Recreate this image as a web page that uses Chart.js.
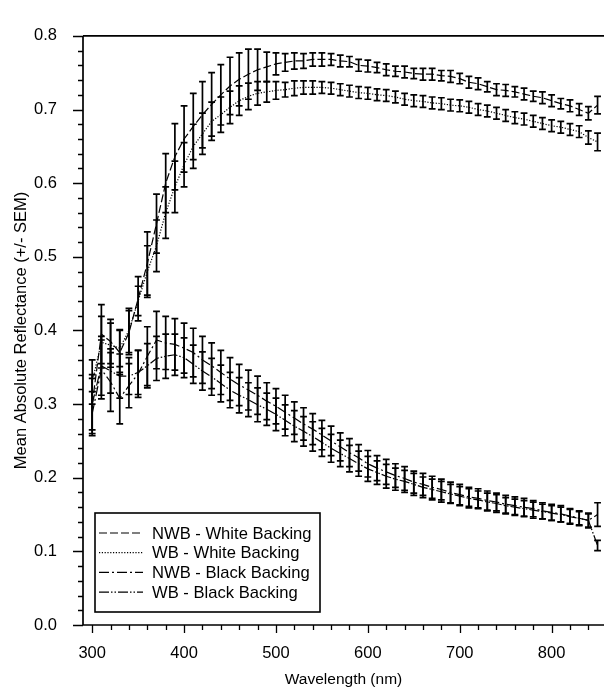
<!DOCTYPE html>
<html><head><meta charset="utf-8">
<script src="https://cdn.jsdelivr.net/npm/chart.js@4"></script>
<style>html,body{margin:0;padding:0;background:#fff}</style>
</head><body>
<canvas id="c" width="604" height="694"></canvas>
<script>
const wavelengths = [300,310,320,330,340,350,360,370,380,390,400,410,420,430,440,450,460,470,480,490,500,510,520,530,540,550,560,570,580,590,600,610,620,630,640,650,660,670,680,690,700,710,720,730,740,750,760,770,780,790,800,810,820,830,840,850];
const xTicks = [300,400,500,600,700,800];
const yTicks = [0,0.1,0.2,0.3,0.4,0.5,0.6,0.7,0.8];
const seriesLabels = ['NWB - White Backing','WB - White Backing','NWB - Black Backing','WB - Black Backing'];

const nwbWhite = [0.300,0.395,0.385,0.370,0.397,0.443,0.491,0.545,0.600,0.636,
 0.660,0.677,0.693,0.707,0.720,0.732,0.741,0.748,0.754,0.758,
 0.762,0.764,0.766,0.766,0.768,0.768,0.768,0.766,0.765,0.760,
 0.759,0.757,0.754,0.752,0.751,0.749,0.748,0.748,0.746,0.745,
 0.742,0.737,0.735,0.731,0.727,0.726,0.724,0.721,0.718,0.716,
 0.712,0.708,0.705,0.700,0.695,0.706];
const nwbWhiteErr = [0.035,0.040,0.030,0.030,0.030,0.030,0.043,0.040,0.040,0.045,
 0.045,0.045,0.045,0.043,0.041,0.039,0.036,0.034,0.028,0.020,
 0.015,0.012,0.011,0.010,0.009,0.009,0.008,0.008,0.007,0.008,
 0.008,0.007,0.008,0.007,0.008,0.007,0.008,0.008,0.007,0.008,
 0.007,0.008,0.008,0.007,0.008,0.008,0.007,0.008,0.007,0.008,
 0.008,0.007,0.008,0.008,0.009,0.012];

const wbWhite = [0.330,0.384,0.380,0.376,0.400,0.440,0.480,0.515,0.560,0.595,
 0.625,0.650,0.667,0.684,0.693,0.703,0.712,0.718,0.722,0.724,
 0.726,0.727,0.729,0.730,0.730,0.730,0.729,0.727,0.725,0.723,
 0.722,0.720,0.719,0.717,0.714,0.712,0.711,0.709,0.708,0.706,
 0.705,0.703,0.700,0.698,0.695,0.692,0.689,0.687,0.684,0.681,
 0.678,0.676,0.673,0.670,0.662,0.656];
const wbWhiteErr = [0.030,0.035,0.030,0.025,0.030,0.020,0.035,0.035,0.035,0.035,
 0.030,0.030,0.028,0.026,0.024,0.022,0.020,0.018,0.016,0.014,
 0.012,0.010,0.010,0.009,0.009,0.008,0.008,0.008,0.008,0.008,
 0.008,0.008,0.008,0.008,0.008,0.008,0.008,0.008,0.008,0.008,
 0.008,0.008,0.008,0.008,0.008,0.008,0.008,0.008,0.008,0.008,
 0.008,0.008,0.008,0.008,0.009,0.012];

const nwbBlack = [0.287,0.347,0.330,0.308,0.325,0.341,0.365,0.387,0.383,0.381,
 0.376,0.370,0.360,0.352,0.343,0.334,0.326,0.319,0.312,0.304,
 0.297,0.289,0.281,0.273,0.266,0.258,0.250,0.242,0.234,0.227,
 0.219,0.213,0.208,0.203,0.199,0.194,0.191,0.187,0.184,0.180,
 0.177,0.174,0.172,0.169,0.167,0.164,0.162,0.160,0.158,0.155,
 0.153,0.151,0.148,0.145,0.142,0.150];
const nwbBlackErr = [0.030,0.040,0.040,0.035,0.030,0.032,0.040,0.039,0.036,0.035,
 0.034,0.033,0.032,0.031,0.030,0.029,0.028,0.027,0.026,0.025,
 0.024,0.023,0.022,0.022,0.021,0.020,0.020,0.019,0.019,0.018,
 0.018,0.017,0.017,0.016,0.016,0.015,0.015,0.015,0.014,0.014,
 0.014,0.013,0.013,0.013,0.012,0.012,0.012,0.012,0.011,0.011,
 0.011,0.011,0.010,0.010,0.010,0.016];

const wbBlack = [0.300,0.352,0.345,0.338,0.338,0.343,0.352,0.362,0.365,0.367,
 0.363,0.354,0.345,0.337,0.328,0.319,0.312,0.306,0.299,0.293,
 0.286,0.278,0.270,0.263,0.256,0.248,0.240,0.233,0.226,0.219,
 0.212,0.207,0.202,0.198,0.195,0.191,0.187,0.184,0.181,0.178,
 0.175,0.172,0.170,0.167,0.165,0.162,0.160,0.158,0.156,0.154,
 0.152,0.150,0.147,0.145,0.142,0.108];
const wbBlackErr = [0.040,0.040,0.030,0.030,0.025,0.030,0.030,0.030,0.030,0.028,
 0.027,0.026,0.026,0.025,0.025,0.024,0.024,0.023,0.023,0.022,
 0.022,0.021,0.021,0.020,0.020,0.019,0.019,0.018,0.018,0.017,
 0.017,0.016,0.016,0.015,0.015,0.015,0.014,0.014,0.014,0.013,
 0.013,0.013,0.012,0.012,0.012,0.011,0.011,0.011,0.011,0.010,
 0.010,0.010,0.010,0.009,0.009,0.007];

const FONT = '"Liberation Sans", Arial, Helvetica, sans-serif';
const dashes = [[8,3],[1.2,1.6],[10,3,2,3],[10,2,1.5,2,1.5,2]];
const values = [nwbWhite, wbWhite, nwbBlack, wbBlack];
const errors = [nwbWhiteErr, wbWhiteErr, nwbBlackErr, wbBlackErr];

const datasets = values.map((v, i) => ({
  label: seriesLabels[i],
  data: wavelengths.map((w, j) => ({x: w, y: v[j]})),
  borderColor: '#000',
  borderWidth: 1.2,
  borderDash: dashes[i],
  pointRadius: 0,
  fill: false,
  tension: 0
}));

const decor = {
  id: 'decor',
  afterDatasetsDraw(chart) {
    const ctx = chart.ctx, xs = chart.scales.x, ys = chart.scales.y, a = chart.chartArea;
    ctx.save();
    ctx.strokeStyle = '#000';
    ctx.lineWidth = 1.7;
    ctx.setLineDash([]);
    values.forEach((v, i) => {
      v.forEach((val, j) => {
        const px = xs.getPixelForValue(wavelengths[j]);
        const t = ys.getPixelForValue(val + errors[i][j]);
        const b = ys.getPixelForValue(val - errors[i][j]);
        ctx.beginPath();
        ctx.moveTo(px, t); ctx.lineTo(px, b);
        ctx.moveTo(px - 3.4, t); ctx.lineTo(px + 3.4, t);
        ctx.moveTo(px - 3.4, b); ctx.lineTo(px + 3.4, b);
        ctx.stroke();
      });
    });
    ctx.lineWidth = 1.7;
    ctx.beginPath();
    ctx.moveTo(a.left, a.top); ctx.lineTo(a.left, a.bottom); ctx.lineTo(a.right, a.bottom);
    ctx.moveTo(a.left, a.top); ctx.lineTo(a.right, a.top);
    ctx.stroke();
    ctx.lineWidth = 1.3;
    ctx.beginPath();
    const xStep = (xTicks[1] - xTicks[0]) / 5;
    for (let k = 0; k <= (xTicks.length - 1) * 5 + 2; k++) {
      const v = xTicks[0] + k * xStep;
      if (v > xs.max) break;
      const px = Math.round(xs.getPixelForValue(v)) + 0.5;
      const len = (k % 5 === 0) ? 8 : 5;
      ctx.moveTo(px, a.bottom); ctx.lineTo(px, a.bottom + len);
    }
    const yStep = (yTicks[1] - yTicks[0]) / 5;
    for (let k = 0; k <= (yTicks.length - 1) * 5; k++) {
      const v = yTicks[0] + k * yStep;
      const py = Math.round(ys.getPixelForValue(v)) + 0.5;
      const len = (k % 5 === 0) ? 10 : 5;
      ctx.moveTo(a.left, py); ctx.lineTo(a.left - len, py);
    }
    ctx.stroke();
    const bx = 95, by = 513, bw = 225, bh = 99;
    ctx.fillStyle = '#fff';
    ctx.fillRect(bx, by, bw, bh);
    ctx.lineWidth = 1.6;
    ctx.strokeRect(bx, by, bw, bh);
    ctx.font = '16.6px ' + FONT;
    ctx.textBaseline = 'middle';
    ctx.fillStyle = '#000';
    seriesLabels.forEach((lab, i) => {
      const ry = by + 20 + i * 19.7;
      ctx.beginPath();
      ctx.lineWidth = 1.2;
      ctx.setLineDash(dashes[i]);
      ctx.moveTo(bx + 4, ry); ctx.lineTo(bx + 48, ry);
      ctx.stroke();
      ctx.setLineDash([]);
      ctx.fillText(lab, bx + 57, ry + 1);
    });
    ctx.restore();
  }
};

new Chart(document.getElementById('c'), {
  type: 'line',
  data: { datasets },
  options: {
    responsive: false,
    animation: false,
    devicePixelRatio: 1,
    layout: { padding: { top: 14, right: 0, left: 0, bottom: 0 } },
    plugins: { legend: { display: false }, tooltip: { enabled: false } },
    scales: {
      x: {
        type: 'linear', min: 290, max: 857,
        grid: { display: false, drawTicks: false },
        border: { display: false },
        afterBuildTicks: s => { s.ticks = xTicks.map(v => ({ value: v })); },
        afterFit: s => { s.height = 69; },
        ticks: { autoSkip: false, maxRotation: 0, color: '#000', padding: 19,
                 font: { family: FONT, size: 16.5 }, callback: v => String(v) },
        title: { display: true, text: 'Wavelength (nm)', color: '#000',
                 font: { family: FONT, size: 15.5 }, padding: { top: 0, bottom: 5 } }
      },
      y: {
        type: 'linear', min: 0, max: 0.8,
        grid: { display: false, drawTicks: false },
        border: { display: false },
        afterBuildTicks: s => { s.ticks = yTicks.map(v => ({ value: v })); },
        afterFit: s => { s.width = 83; },
        ticks: { color: '#000', padding: 26, font: { family: FONT, size: 16.5 },
                 callback: v => Number(v).toFixed(1) },
        title: { display: true, text: 'Mean Absolute Reflectance (+/- SEM)', color: '#000',
                 font: { family: FONT, size: 16.5 }, padding: { top: 12, bottom: 0 } }
      }
    }
  },
  plugins: [decor]
});
</script>
</body></html>
